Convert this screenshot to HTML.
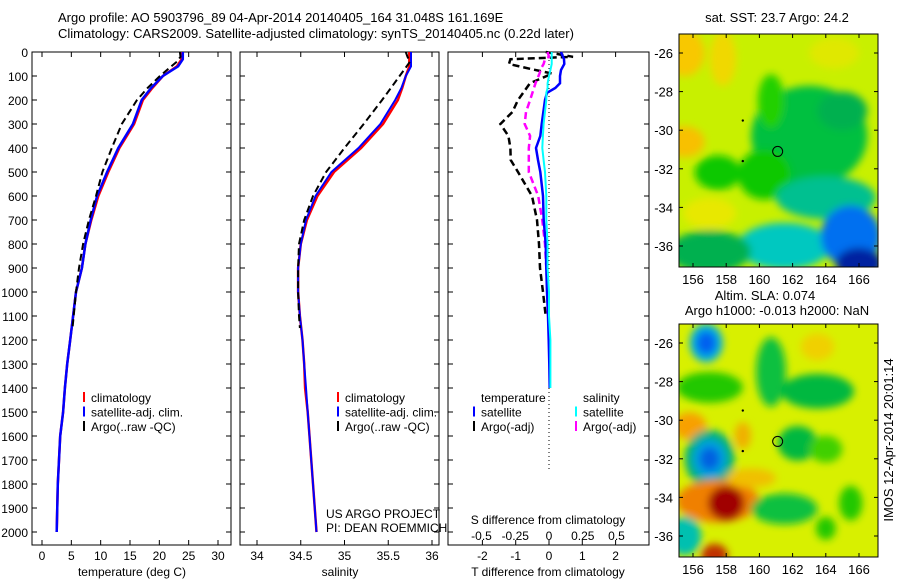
<!DOCTYPE html>
<html><head><meta charset="utf-8"><style>
html,body{margin:0;padding:0;background:#fff;}
svg text{font-family:"Liberation Sans",sans-serif;font-size:12px;fill:#000;}
</style></head><body>
<svg id="fig" width="900" height="580" viewBox="0 0 900 580" xmlns="http://www.w3.org/2000/svg">
<defs>
<filter id="bl" x="-50%" y="-50%" width="200%" height="200%"><feGaussianBlur stdDeviation="4"/></filter>
<clipPath id="c1"><rect x="679" y="34" width="199" height="233"/></clipPath>
<clipPath id="c2"><rect x="679" y="324" width="199" height="233"/></clipPath>
</defs>
<text x="58" y="22" style="font-size:13px">Argo profile: AO 5903796_89 04-Apr-2014 20140405_164 31.048S 161.169E</text>
<text x="58" y="38" style="font-size:13px">Climatology: CARS2009. Satellite-adjusted climatology: synTS_20140405.nc (0.22d later)</text>
<g id="plots"></g>
<g id="maps"></g>
</svg>
<script>
// ---- data ----
const depthT = [0,30,60,100,150,200,300,400,500,600,700,800,900,1000,1100,1200,1300,1400,1500,1600,1800,2000];
const tempSat = [24.0,24.0,23.2,20.6,18.6,17.0,15.5,13.0,11.1,9.4,8.3,7.4,6.8,5.8,5.3,4.8,4.3,3.9,3.6,3.1,2.7,2.5];
const tempClim = [23.8,23.8,23.0,20.6,18.8,17.2,15.7,13.2,11.3,9.6,8.4,7.4,6.8,5.8,5.3,4.8,4.3,3.9,3.6,3.1,2.7,2.5];
const depthA = [0,20,40,100,150,200,300,400,500,600,700,800,900,1000,1100,1150];
const tempArgo = [23.5,23.6,23.0,20.1,18.0,16.2,13.6,11.9,10.3,9.2,8.0,7.0,6.3,5.8,5.4,5.2];
const salSat = [35.76,35.76,35.76,35.70,35.65,35.58,35.41,35.16,34.85,34.67,34.56,34.50,34.47,34.47,34.49,34.52,34.54,34.56,34.58,34.60,34.64,34.68];
const salClim = [35.74,35.74,35.74,35.70,35.66,35.61,35.44,35.19,34.88,34.69,34.57,34.50,34.47,34.47,34.49,34.52,34.54,34.55,34.58,34.60,34.64,34.68];
const salArgo = [35.70,35.72,35.75,35.63,35.53,35.43,35.22,35.00,34.79,34.64,34.54,34.48,34.47,34.47,34.48,34.49];
const depthD = [0,30,50,75,100,130,150,170,200,300,350,400,450,500,600,700,800,900,1000,1100,1200,1300,1400];
const dTsat = [0.36,0.45,0.46,0.36,0.33,0.33,0.19,-0.06,-0.12,-0.22,-0.26,-0.39,-0.33,-0.26,-0.18,-0.16,-0.1,-0.08,-0.06,-0.03,-0.01,0.01,0.02];
const dSsat = [0.02,0.02,0.02,0.01,0.0,-0.01,-0.01,-0.02,-0.02,-0.04,-0.045,-0.05,-0.04,-0.03,-0.02,-0.02,-0.01,-0.01,0.0,0.0,0.01,0.01,0.01];
const depthDA = [0,20,30,50,70,90,130,200,250,300,350,400,450,500,600,700,800,900,1000,1100];
const dTargo = [-0.1,0.72,-1.16,-1.2,-0.57,0.1,-0.57,-0.93,-1.1,-1.46,-1.22,-1.16,-1.15,-0.93,-0.51,-0.36,-0.3,-0.27,-0.18,-0.1];
const dSargo = [-0.01,0.0,-0.03,-0.04,-0.06,-0.07,-0.1,-0.14,-0.17,-0.18,-0.14,-0.15,-0.15,-0.15,-0.08,-0.05,-0.03,-0.02,-0.01,-0.01];
const depthTicks = [0,100,200,300,400,500,600,700,800,900,1000,1100,1200,1300,1400,1500,1600,1700,1800,1900,2000];
const tTicks = [0,5,10,15,20,25,30];
const sTicks = [34,34.5,35,35.5,36];
const sTickLabels = ["34","34.5","35","35.5","36"];
const dtTicks = [-2,-1,0,1,2];
const dsTicks = [-0.5,-0.25,0,0.25,0.5];
const dsTickLabels = ["-0.5","-0.25","0","0.25","0.5"];
const lonTicks = [156,158,160,162,164,166];
const latTicks = [-26,-28,-30,-32,-34,-36];

const NS="http://www.w3.org/2000/svg";
const plots=document.getElementById('plots');
function mk(tag,attrs,parent){const e=document.createElementNS(NS,tag);for(const k in attrs)e.setAttribute(k,attrs[k]);(parent||plots).appendChild(e);return e;}
const yD = d => 52 + d*0.24;
const xT = t => 42 + t*(176/30);
const xS = s => 257 + (s-34)*87.5;
const xDT = t => 549 + t*33.3;
const xDS = s => 549 + s*135;
const TOP=52, BOT=545;

function panel(x0,x1,name){
  const r=mk('rect',{x:x0,y:TOP,width:x1-x0,height:BOT-TOP,fill:'none',stroke:'#000','stroke-width':1});
  
  
  depthTicks.forEach(d=>{
    mk('line',{x1:x0,x2:x0+5,y1:yD(d),y2:yD(d),stroke:'#000'});
    mk('line',{x1:x1,x2:x1-5,y1:yD(d),y2:yD(d),stroke:'#000'});
  });
}
function xticks(x0,x1,vals,fx,labels,ly){
  vals.forEach((v,i)=>{
    const x=fx(v);
    mk('line',{x1:x,x2:x,y1:TOP,y2:TOP+5,stroke:'#000'});
    mk('line',{x1:x,x2:x,y1:BOT,y2:BOT-5,stroke:'#000'});
    if(labels){const t=mk('text',{x:x,y:ly,'text-anchor':'middle'});t.textContent=labels[i];
      
      }
  });
}
function line(xs,ds,fx,color,w,dash,name){
  const pts=xs.map((v,i)=>fx(v).toFixed(1)+','+yD(ds[i]).toFixed(1)).join(' ');
  const p=mk('polyline',{points:pts,fill:'none',stroke:color,'stroke-width':w});
  if(dash)p.setAttribute('stroke-dasharray',dash);
  
  
}
function legend(x,y,items){
  items.forEach((it,i)=>{
    mk('line',{x1:x,x2:x,y1:y+i*14.5-10,y2:y+i*14.5,stroke:it[1],'stroke-width':2});
    const t=mk('text',{x:x+7,y:y+i*14.5});t.textContent=it[0];
    
    
  });
}

depthTicks.forEach(d=>{const t=mk('text',{x:28,y:yD(d)+5,'text-anchor':'end'});t.textContent=d;
  
  });

// panel 1
panel(32,231,'temperature-panel');
xticks(32,231,tTicks,xT,tTicks,560);
line(tempClim,depthT,xT,'#f00',2.5,null,'climatology-temperature-line');
line(tempSat,depthT,xT,'#00f',2.5,null,'satellite-temperature-line');
line(tempArgo,depthA,xT,'#000',2,'7,4','argo-temperature-line');
legend(84,402,[['climatology','#f00'],['satellite-adj. clim.','#00f'],['Argo(..raw -QC)','#000']]);
{const t=mk('text',{x:132,y:576,'text-anchor':'middle'});t.textContent='temperature (deg C)';
}

// panel 2
panel(240,439,'salinity-panel');
xticks(240,439,sTicks,xS,sTickLabels,560);
line(salClim,depthT,xS,'#f00',2.5,null,'climatology-salinity-line');
line(salSat,depthT,xS,'#00f',2,null,'satellite-salinity-line');
line(salArgo,depthA,xS,'#000',2,'7,4','argo-salinity-line');
legend(338,402,[['climatology','#f00'],['satellite-adj. clim.','#00f'],['Argo(..raw -QC)','#000']]);
{const t=mk('text',{x:326,y:518});t.textContent='US ARGO PROJECT';
const t2=mk('text',{x:326,y:532});t2.textContent='PI: DEAN ROEMMICH';
const t3=mk('text',{x:340,y:576,'text-anchor':'middle'});t3.textContent='salinity';}

// panel 3
panel(448,649,'difference-panel');
xticks(448,649,dtTicks,xDT,dtTicks,560);
dsTicks.forEach((v,i)=>{const t=mk('text',{x:xDS(v),y:540,'text-anchor':'middle'});t.textContent=dsTickLabels[i];
  });
mk('line',{x1:549,x2:549,y1:TOP,y2:470,stroke:'#000','stroke-dasharray':'1,3'});
line(dTargo,depthDA,xDT,'#000',2.5,'7,4','argo-temperature-difference-line');
line(dSargo,depthDA,xDS,'#f0f',2.5,'7,4','argo-salinity-difference-line');
line(dTsat,depthD,xDT,'#00f',2.5,null,'satellite-temperature-difference-line');
line(dSsat,depthD,xDS,'#0ff',2,null,'satellite-salinity-difference-line');
{const a=mk('text',{x:481,y:402});a.textContent='temperature';
const b=mk('text',{x:583,y:402});b.textContent='salinity';}
legend(474,416.5,[['satellite','#00f'],['Argo(-adj)','#000']]);
legend(576,416.5,[['satellite','#0ff'],['Argo(-adj)','#f0f']]);
{const a=mk('text',{x:548,y:524,'text-anchor':'middle'});a.textContent='S difference from climatology';
const b=mk('text',{x:548,y:576,'text-anchor':'middle'});b.textContent='T difference from climatology';}

// ---- maps ----
const maps=document.getElementById('maps');
function mm(tag,attrs,parent){const e=document.createElementNS(NS,tag);for(const k in attrs)e.setAttribute(k,attrs[k]);(parent||maps).appendChild(e);return e;}
function mapFrame(y0,clip,name,blobs,lat0y){
  const g=mm('g',{'clip-path':'url(#'+clip+')'});
  
  
  const lx=lon=>693+(lon-156)*16.6, ly=lat=>lat0y+(-26-lat)*19.3;
  mm('rect',{x:679,y:y0,width:199,height:233,fill:blobs.bg},g);
  const gb=mm('g',{filter:'url(#bl)'},g);
  blobs.list.forEach(b=>mm('ellipse',{cx:lx(b[0]),cy:ly(b[1]),rx:b[2]*16.6,ry:b[3]*19.3,fill:b[4]},gb));
  mm('rect',{x:679,y:y0,width:199,height:233,fill:'none',stroke:'#000'});
  lonTicks.forEach(l=>{mm('line',{x1:lx(l),x2:lx(l),y1:y0,y2:y0+4,stroke:'#000'});mm('line',{x1:lx(l),x2:lx(l),y1:y0+233,y2:y0+229,stroke:'#000'});
    const t=mm('text',{x:lx(l),y:y0+250,'text-anchor':'middle',style:'font-size:13px'});t.textContent=l;
    });
  latTicks.forEach(l=>{mm('line',{x1:679,x2:683,y1:ly(l),y2:ly(l),stroke:'#000'});mm('line',{x1:878,x2:874,y1:ly(l),y2:ly(l),stroke:'#000'});
    const t=mm('text',{x:673,y:ly(l)+5,'text-anchor':'end',style:'font-size:13px'});t.textContent=l;
    });
  const c=mm('circle',{cx:lx(161.1),cy:ly(-31.1),r:5,fill:'none',stroke:'#000'});
  
  mm('circle',{cx:lx(159),cy:ly(-29.5),r:1.2,fill:'#000'});
  mm('circle',{cx:lx(159),cy:ly(-31.6),r:1.2,fill:'#000'});
}
mapFrame(34,'c1','sst-map',{bg:'#c8f000',list:[
 [155.5,-26,1.2,1.2,'#f8c800'],[157.8,-26.3,0.8,1.4,'#f0d800'],[155.5,-30.6,1.2,0.8,'#f8c000'],
 [163,-30.3,3.5,2.6,'#00c040'],[160.7,-28.5,0.8,1.4,'#20d000'],[160.3,-32.3,1.6,1.3,'#10c800'],
 [157.5,-32.2,1.4,0.9,'#10c800'],[165,-29,1.5,1,'#00b050'],
 [164,-33.5,3,1.1,'#00c090'],[161.5,-36,2.8,1.2,'#00c8c0'],[157,-36.3,2.5,1.1,'#00b050'],
 [165.5,-35.5,1.8,1.6,'#0070f0'],[166,-36.9,1.4,0.8,'#0020a0'],[157,-34.3,1.6,0.8,'#e8e800'],[164.5,-26,1.5,0.8,'#e0e800']]},53);
mapFrame(324,'c2','sea-level-anomaly-map',{bg:'#d8f000',list:[
 [157,-28.3,2,0.8,'#20c800'],[156.8,-26,1,1,'#00b0e0'],[156.8,-26,0.6,0.6,'#0060f0'],
 [160.7,-27.5,0.9,1.8,'#10c040'],[163.5,-28.5,2.2,0.9,'#00b840'],[163.5,-26.2,1,0.7,'#f0d000'],
 [155.8,-30.3,1,0.7,'#f8a000'],[159,-30.8,0.5,0.7,'#f0b000'],[162.3,-31.2,1.2,0.9,'#00b840'],
 [157,-32,1.5,1.5,'#00b080'],[157,-32,1,1,'#00a0e0'],[157,-32,0.6,0.6,'#0060e0'],
 [157.5,-34.2,2.5,1.1,'#f08000'],[158,-34.3,1.1,0.9,'#a00000'],[159.5,-33,1.5,0.5,'#f0c000'],
 [161.5,-34.6,2,0.8,'#10c040'],[165.5,-34.3,0.7,0.9,'#20c800'],[164,-35.6,0.6,0.6,'#20c800'],
 [155.5,-36,1,1,'#00c0b0'],[157.3,-37,0.8,0.6,'#c03000'],[164,-31.5,1,0.7,'#40d000']]},343);
[['sst-map-title','sat. SST: 23.7 Argo: 24.2',777,22],['sla-map-title','Altim. SLA: 0.074',765,300],['sla-map-subtitle','Argo h1000: -0.013 h2000: NaN',777,315]].forEach(a=>{
  const t=mm('text',{x:a[2],y:a[3],'text-anchor':'middle',style:'font-size:13px'});t.textContent=a[1];
  });
{const t=mm('text',{x:893,y:440,'text-anchor':'middle',transform:'rotate(-90 893 440)',style:'font-size:13px'});t.textContent='IMOS 12-Apr-2014 20:01:14';
}
</script>
</body></html>
